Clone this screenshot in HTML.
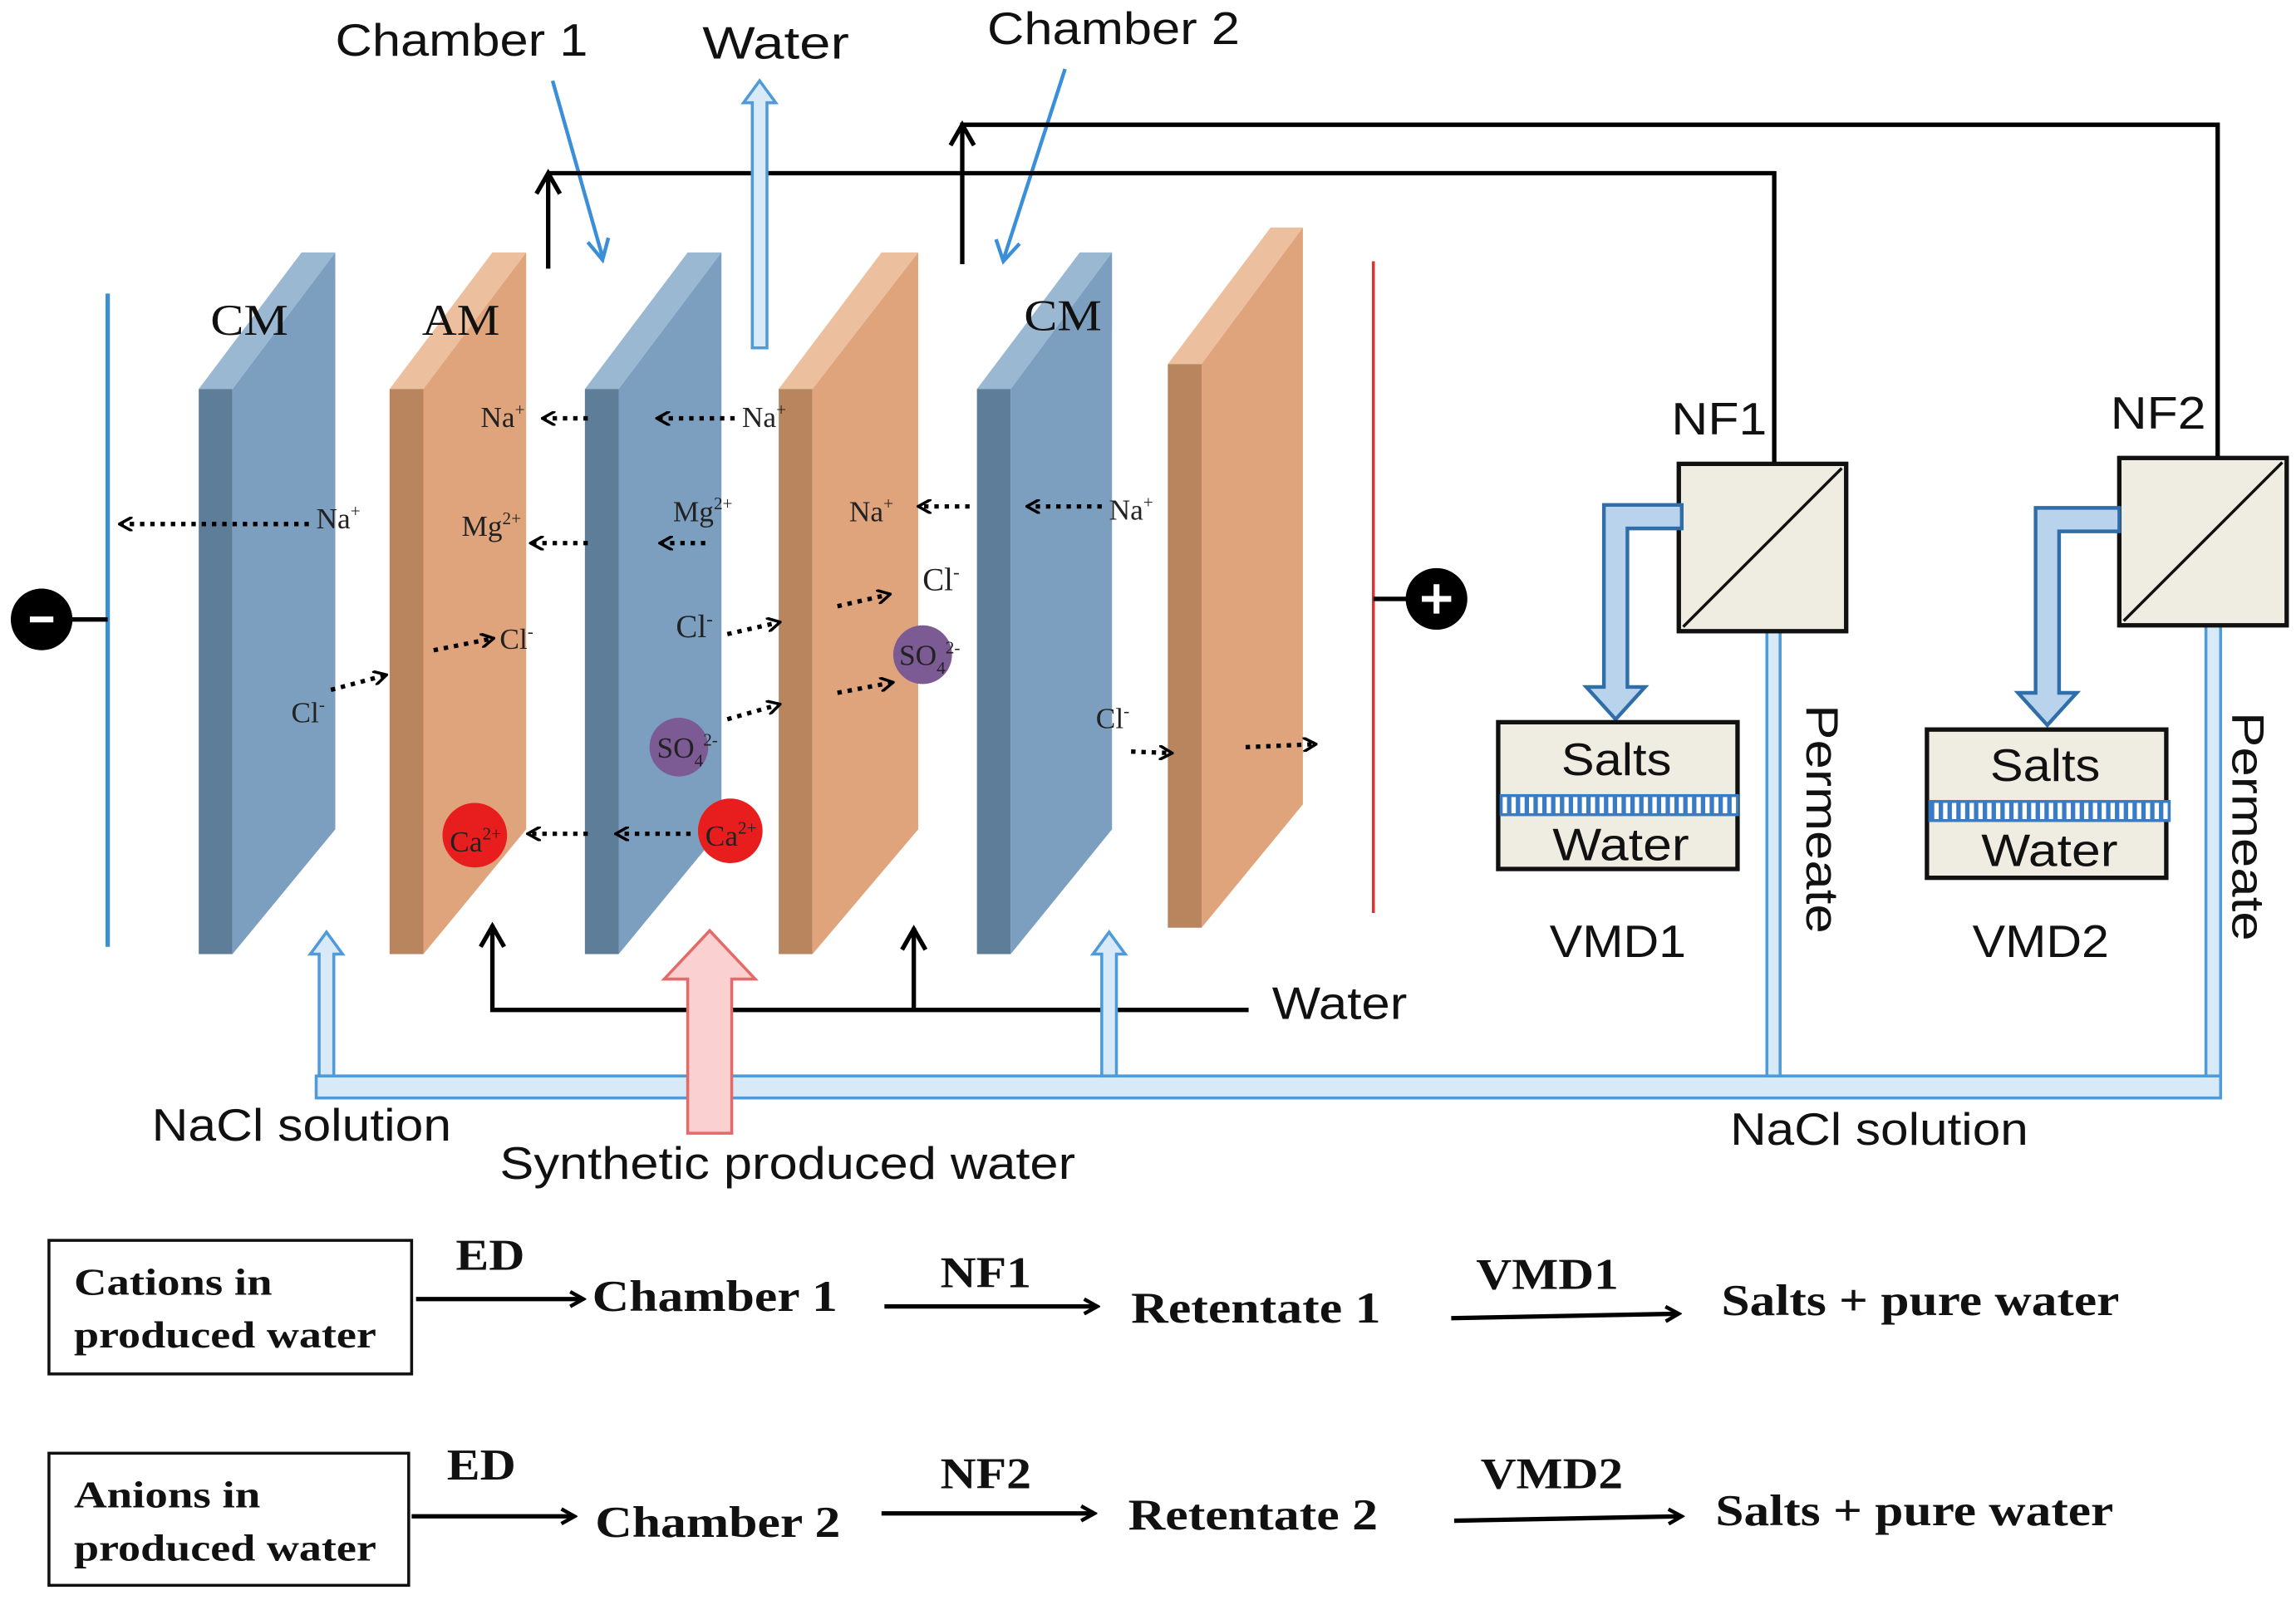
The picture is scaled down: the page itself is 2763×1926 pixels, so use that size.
<!DOCTYPE html>
<html><head><meta charset="utf-8"><style>html,body{margin:0;padding:0;background:#fff}svg{display:block}</style></head><body>
<svg width="2763" height="1926" viewBox="0 0 1563 1090" xmlns="http://www.w3.org/2000/svg">
<defs>
<marker id="ab" markerWidth="10" markerHeight="10" refX="8" refY="5" orient="auto" markerUnits="userSpaceOnUse"><path d="M0,0 L9,5 L0,10" fill="none" stroke="#000" stroke-width="2"/></marker>
<marker id="as" markerWidth="12" markerHeight="12" refX="9" refY="6" orient="auto" markerUnits="userSpaceOnUse"><path d="M1,1 L10,6 L1,11" fill="none" stroke="#000" stroke-width="2.5"/></marker>
<pattern id="st" width="6" height="10" patternUnits="userSpaceOnUse"><rect width="6" height="10" fill="#fff"/><rect width="3" height="10" fill="#3a7cc4"/></pattern>
</defs>
<g font-family="Liberation Sans, sans-serif">
<g id="slabs">
<polygon points="135,265 205,172 228,172 158,265" fill="#9bb8d3"/><polygon points="135,265 158,265 158,650 135,650" fill="#5e7d99"/><polygon points="158,265 228,172 228,565 158,650" fill="#7c9fc0"/>
<polygon points="265,265 335,172 358,172 288,265" fill="#ecbf9e"/><polygon points="265,265 288,265 288,650 265,650" fill="#b8855f"/><polygon points="288,265 358,172 358,565 288,650" fill="#e0a47c"/>
<polygon points="398,265 468,172 491,172 421,265" fill="#9bb8d3"/><polygon points="398,265 421,265 421,650 398,650" fill="#5e7d99"/><polygon points="421,265 491,172 491,565 421,650" fill="#7c9fc0"/>
<polygon points="530,265 600,172 625,172 553,265" fill="#ecbf9e"/><polygon points="530,265 553,265 553,650 530,650" fill="#b8855f"/><polygon points="553,265 625,172 625,565 553,650" fill="#e0a47c"/>
<polygon points="665,265 735,172 757,172 688,265" fill="#9bb8d3"/><polygon points="665,265 688,265 688,650 665,650" fill="#5e7d99"/><polygon points="688,265 757,172 757,565 688,650" fill="#7c9fc0"/>
<polygon points="795,248 865,155 887,155 818,248" fill="#ecbf9e"/><polygon points="795,248 818,248 818,632 795,632" fill="#b8855f"/><polygon points="818,248 887,155 887,548 818,632" fill="#e0a47c"/>
</g>
<line x1="73" y1="200" x2="73" y2="645" stroke="#3d8fd0" stroke-width="3"/>
<line x1="28" y1="422" x2="73" y2="422" stroke="#000" stroke-width="3"/>
<circle cx="28" cy="422" r="21" fill="#000"/><rect x="20" y="420" width="16" height="4" fill="#fff"/>
<line x1="935" y1="178" x2="935" y2="622" stroke="#e03030" stroke-width="2"/>
<line x1="935" y1="408" x2="978" y2="408" stroke="#000" stroke-width="3"/>
<circle cx="978" cy="408" r="21" fill="#000"/><rect x="968" y="406" width="20" height="4" fill="#fff"/><rect x="976" y="398" width="4" height="20" fill="#fff"/>
<circle cx="323" cy="569" r="22" fill="#e81e1e"/><circle cx="497" cy="566" r="22" fill="#e81e1e"/>
<circle cx="462" cy="509" r="20" fill="#7c5a94"/><circle cx="628" cy="446" r="20" fill="#7c5a94"/>
<g font-family="Liberation Serif, serif" font-size="20" fill="#222">
<text x="327" y="291">Na<tspan font-size="12" dy="-8">+</tspan></text>
<text x="505" y="291">Na<tspan font-size="12" dy="-8">+</tspan></text>
<text x="215" y="360">Na<tspan font-size="12" dy="-8">+</tspan></text>
<text x="578" y="355">Na<tspan font-size="12" dy="-8">+</tspan></text>
<text x="755" y="354">Na<tspan font-size="12" dy="-8">+</tspan></text>
<text x="314" y="365">Mg<tspan font-size="12" dy="-8">2+</tspan></text>
<text x="458" y="355">Mg<tspan font-size="12" dy="-8">2+</tspan></text>
<text x="340" y="442">Cl<tspan font-size="12" dy="-8">-</tspan></text>
<text x="198" y="492">Cl<tspan font-size="12" dy="-8">-</tspan></text>
<text x="460" y="434" font-size="22">Cl<tspan font-size="13" dy="-8">-</tspan></text>
<text x="628" y="402" font-size="22">Cl<tspan font-size="13" dy="-8">-</tspan></text>
<text x="746" y="496">Cl<tspan font-size="12" dy="-8">-</tspan></text>
<text x="612" y="453">SO<tspan font-size="12" dy="6">4</tspan><tspan font-size="12" dy="-14">2-</tspan></text>
<text x="447" y="516">SO<tspan font-size="12" dy="6">4</tspan><tspan font-size="12" dy="-14">2-</tspan></text>
<text x="306" y="580">Ca<tspan font-size="12" dy="-8">2+</tspan></text>
<text x="480" y="576">Ca<tspan font-size="12" dy="-8">2+</tspan></text>
</g>
<g stroke="#000" stroke-width="3" stroke-dasharray="3,4" fill="none" marker-end="url(#ab)">
<line x1="210" y1="357" x2="82" y2="357"/>
<line x1="400" y1="285" x2="370" y2="285"/>
<line x1="500" y1="285" x2="448" y2="285"/>
<line x1="400" y1="370" x2="362" y2="370"/>
<line x1="480" y1="370" x2="450" y2="370"/>
<line x1="295" y1="443" x2="335" y2="435"/>
<line x1="225" y1="470" x2="262" y2="460"/>
<line x1="495" y1="432" x2="530" y2="424"/>
<line x1="570" y1="413" x2="605" y2="405"/>
<line x1="495" y1="490" x2="530" y2="480"/>
<line x1="570" y1="472" x2="607" y2="465"/>
<line x1="660" y1="345" x2="626" y2="345"/>
<line x1="750" y1="345" x2="700" y2="345"/>
<line x1="770" y1="512" x2="797" y2="513"/>
<line x1="848" y1="509" x2="895" y2="507"/>
<line x1="470" y1="568" x2="420" y2="568"/>
<line x1="400" y1="568" x2="360" y2="568"/>
</g>
<g font-family="Liberation Serif, serif" font-size="30" fill="#111" lengthAdjust="spacingAndGlyphs">
<text x="143" y="228" textLength="53" lengthAdjust="spacingAndGlyphs">CM</text><text x="287" y="228" textLength="53" lengthAdjust="spacingAndGlyphs">AM</text><text x="697" y="225" textLength="53" lengthAdjust="spacingAndGlyphs">CM</text>
</g>
<g font-size="31" fill="#111">
<text x="228" y="38" textLength="172" lengthAdjust="spacingAndGlyphs">Chamber 1</text>
<text x="478" y="40" textLength="100" lengthAdjust="spacingAndGlyphs">Water</text>
<text x="672" y="30" textLength="172" lengthAdjust="spacingAndGlyphs">Chamber 2</text>
<text x="1138" y="296" textLength="65" lengthAdjust="spacingAndGlyphs">NF1</text>
<text x="1437" y="292" textLength="65" lengthAdjust="spacingAndGlyphs">NF2</text>
<text x="1055" y="652" textLength="93" lengthAdjust="spacingAndGlyphs">VMD1</text>
<text x="1343" y="652" textLength="93" lengthAdjust="spacingAndGlyphs">VMD2</text>
<text x="866" y="694" textLength="92" lengthAdjust="spacingAndGlyphs">Water</text>
<text x="103" y="777" textLength="204" lengthAdjust="spacingAndGlyphs">NaCl solution</text>
<text x="1178" y="780" textLength="203" lengthAdjust="spacingAndGlyphs">NaCl solution</text>
<text x="340" y="803" textLength="392" lengthAdjust="spacingAndGlyphs">Synthetic produced water</text>
<text transform="translate(1230,480) rotate(90)" textLength="156" lengthAdjust="spacingAndGlyphs">Permeate</text>
<text transform="translate(1520,485) rotate(90)" textLength="156" lengthAdjust="spacingAndGlyphs">Permeate</text>
</g>
<line x1="376" y1="55" x2="410" y2="175" stroke="#3a8fd8" stroke-width="2.5"/>
<path d="M400,165 L410,177 L414,162" fill="none" stroke="#3a8fd8" stroke-width="2.5"/>
<line x1="725" y1="47" x2="683" y2="177" stroke="#3a8fd8" stroke-width="2.5"/>
<path d="M678,163 L683,178 L694,166" fill="none" stroke="#3a8fd8" stroke-width="2.5"/>
<g stroke="#000" stroke-width="3" fill="none">
<path d="M373,183 L373,118 M373,118 L1208,118 L1208,315"/>
<path d="M365,132 L373,118 L381,132"/>
<path d="M655,180 L655,85 L1510,85 L1510,312"/>
<path d="M647,99 L655,85 L663,99"/>
<path d="M335,630 L335,688 L850,688 M622,688 L622,632"/>
<path d="M327,645 L335,631 L343,645 M614,647 L622,633 L630,647"/>
</g>
<g fill="#d8e9f8" stroke="#4f9ad8" stroke-width="2">
<rect x="215" y="733" width="1297" height="15"/>
<rect x="1203" y="428" width="9" height="305"/>
<rect x="1502" y="425" width="10" height="308"/>
<path d="M217,733 L217,650 L211,650 L222,635 L233,650 L227,650 L227,733 Z"/>
<path d="M750,733 L750,650 L744,650 L755,635 L766,650 L760,650 L760,733 Z"/>
<path d="M512,237 L512,70 L506,70 L517,55 L528,70 L522,70 L522,237 Z"/>
</g>
<path d="M468,772 L468,667 L452,667 L483,634 L514,667 L498,667 L498,772 Z" fill="#fbd0d0" stroke="#e46a6a" stroke-width="2"/>
<rect x="1143" y="316" width="114" height="114" fill="#efede2" stroke="#111" stroke-width="3"/>
<line x1="1146" y1="427" x2="1254" y2="319" stroke="#111" stroke-width="2"/>
<rect x="1443" y="312" width="114" height="114" fill="#efede2" stroke="#111" stroke-width="3"/>
<line x1="1446" y1="423" x2="1554" y2="315" stroke="#111" stroke-width="2"/>
<path d="M1145,344 L1092,344 L1092,468 L1080,468 L1100,490 L1120,468 L1108,468 L1108,360 L1145,360 Z" fill="#b9d3ec" stroke="#2f6ea8" stroke-width="2.5"/>
<path d="M1443,346 L1386,346 L1386,472 L1374,472 L1394,494 L1414,472 L1402,472 L1402,362 L1443,362 Z" fill="#b9d3ec" stroke="#2f6ea8" stroke-width="2.5"/>
<rect x="1020" y="492" width="163" height="100" fill="#efede2" stroke="#111" stroke-width="3"/>
<rect x="1022" y="542" width="161" height="13" fill="url(#st)" stroke="#3a7cc4" stroke-width="2"/>
<rect x="1312" y="497" width="163" height="101" fill="#efede2" stroke="#111" stroke-width="3"/>
<rect x="1314" y="546" width="163" height="13" fill="url(#st)" stroke="#3a7cc4" stroke-width="2"/>
<g font-size="31" fill="#111">
<text x="1063" y="528" textLength="75" lengthAdjust="spacingAndGlyphs">Salts</text><text x="1057" y="586" textLength="93" lengthAdjust="spacingAndGlyphs">Water</text>
<text x="1355" y="532" textLength="75" lengthAdjust="spacingAndGlyphs">Salts</text><text x="1349" y="590" textLength="93" lengthAdjust="spacingAndGlyphs">Water</text>
</g>
<rect x="33" y="845" width="247" height="91" fill="#fff" stroke="#111" stroke-width="2"/>
<rect x="33" y="990" width="245" height="90" fill="#fff" stroke="#111" stroke-width="2"/>
<g font-family="Liberation Serif, serif" font-weight="bold" fill="#111">
<text x="50" y="882" font-size="26" textLength="135" lengthAdjust="spacingAndGlyphs">Cations in</text><text x="50" y="918" font-size="26" textLength="206" lengthAdjust="spacingAndGlyphs">produced water</text>
<text x="50" y="1027" font-size="26" textLength="127" lengthAdjust="spacingAndGlyphs">Anions in</text><text x="50" y="1063" font-size="26" textLength="206" lengthAdjust="spacingAndGlyphs">produced water</text>
<g font-size="30">
<text x="310" y="865" textLength="47" lengthAdjust="spacingAndGlyphs">ED</text><text x="403" y="893" textLength="167" lengthAdjust="spacingAndGlyphs">Chamber 1</text>
<text x="640" y="877" textLength="62" lengthAdjust="spacingAndGlyphs">NF1</text><text x="770" y="901" textLength="170" lengthAdjust="spacingAndGlyphs">Retentate 1</text>
<text x="1005" y="878" textLength="97" lengthAdjust="spacingAndGlyphs">VMD1</text><text x="1172" y="896" textLength="271" lengthAdjust="spacingAndGlyphs">Salts + pure water</text>
<text x="304" y="1008" textLength="47" lengthAdjust="spacingAndGlyphs">ED</text><text x="405" y="1047" textLength="167" lengthAdjust="spacingAndGlyphs">Chamber 2</text>
<text x="640" y="1014" textLength="62" lengthAdjust="spacingAndGlyphs">NF2</text><text x="768" y="1042" textLength="170" lengthAdjust="spacingAndGlyphs">Retentate 2</text>
<text x="1008" y="1014" textLength="97" lengthAdjust="spacingAndGlyphs">VMD2</text><text x="1168" y="1039" textLength="271" lengthAdjust="spacingAndGlyphs">Salts + pure water</text>
</g></g>
<g stroke="#000" stroke-width="3" fill="none" marker-end="url(#as)">
<line x1="283" y1="885" x2="396" y2="885"/>
<line x1="602" y1="890" x2="746" y2="890"/>
<line x1="988" y1="898" x2="1142" y2="895"/>
<line x1="280" y1="1033" x2="390" y2="1033"/>
<line x1="600" y1="1031" x2="744" y2="1031"/>
<line x1="990" y1="1036" x2="1144" y2="1033"/>
</g>
</g>
</svg>
</body></html>
